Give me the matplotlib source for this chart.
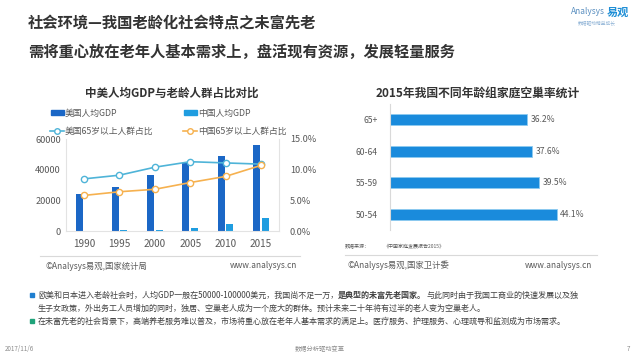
import matplotlib
matplotlib.use('Agg')
import matplotlib.pyplot as plt
import numpy as np
from matplotlib.patches import Rectangle

plt.rcParams['font.family'] = ['Noto Sans CJK SC', 'DejaVu Sans']

# data
years = ['1990', '1995', '2000', '2005', '2010', '2015']
us_gdp = [23900, 28700, 36400, 44100, 48700, 56300]
cn_gdp = [320, 610, 960, 1750, 4560, 8300]
us_old = [8.5, 9.1, 10.4, 11.3, 11.1, 10.9]
cn_old = [5.8, 6.4, 6.8, 7.9, 8.9, 10.7]

age_groups = ['65+', '60-64', '55-59', '50-54']
empty_nest = [36.2, 37.6, 39.5, 44.1]

W, H = 640, 360
US_BAR = '#1b67c6'
CN_BAR = '#1f9de0'
US_LINE = '#4fb4d8'
CN_LINE = '#f6b14f'
GRAY = '#595959'
TITLE = '#333333'


# pixel box (left, top, right, bottom) -> figure fraction
def box(l, t, r, b):
    return [l / W, 1 - b / H, (r - l) / W, (b - t) / H]


fig = plt.figure(figsize=(6.4, 3.6), dpi=100)
bg = fig.add_axes([0, 0, 1, 1])
bg.set_xlim(0, W)
bg.set_ylim(H, 0)
bg.axis('off')

# slide title
bg.text(28, 23, '社会环境—我国老龄化社会特点之未富先老', fontsize=11,
        fontweight='bold', color=TITLE, va='center')
bg.text(28, 52, '需将重心放在老年人基本需求上，盘活现有资源，发展轻量服务',
        fontsize=11, fontweight='bold', color=TITLE, va='center')

# logo
bg.text(605, 12, 'Analysys', fontsize=6, style='italic', color='#5a8fc0',
        ha='right', va='center')
bg.text(607, 12, '易观', fontsize=8, fontweight='bold', color='#1f8fd6', va='center')
bg.text(578, 24, '数据驱动精益成长', fontsize=3.4, color='#8fb3d6', va='center')

# ---- left chart ----
bg.text(172, 93, '中美人均GDP与老龄人群占比对比', fontsize=8.3, fontweight='bold',
        color=TITLE, ha='center', va='center')

# legend drawn by hand
bg.add_patch(Rectangle((51, 110), 13, 5, color=US_BAR))
bg.text(65, 113, '美国人均GDP', fontsize=6.3, color=GRAY, va='center')
bg.add_patch(Rectangle((184, 110), 13, 5, color=CN_BAR))
bg.text(198, 113, '中国人均GDP', fontsize=6.3, color=GRAY, va='center')
bg.plot([50, 64], [131, 131], color=US_LINE, lw=1.2)
bg.plot([57], [131], 'o', ms=4, mfc='white', mec=US_LINE, mew=1)
bg.text(65, 131, '美国65岁以上人群占比', fontsize=6.3, color=GRAY, va='center')
bg.plot([183, 197], [131, 131], color=CN_LINE, lw=1.2)
bg.plot([190], [131], 'o', ms=4, mfc='white', mec=CN_LINE, mew=1)
bg.text(198, 131, '中国65岁以上人群占比', fontsize=6.3, color=GRAY, va='center')

ax = fig.add_axes(box(66.3, 139, 278.7, 231))
ax.set_facecolor('none')
x = np.arange(len(years))
ax.bar(x - 0.12, us_gdp, width=0.2, color=US_BAR, zorder=2)
ax.bar(x + 0.12, cn_gdp, width=0.2, color=CN_BAR, zorder=2)
ax.set_xlim(-0.5, len(years) - 0.5)
ax.set_ylim(0, 60000)
ax.set_yticks([0, 20000, 40000, 60000])
ax.set_xticks(x)
ax.set_xticklabels(years)
ax.tick_params(axis='x', length=0, labelsize=7.2, labelcolor=GRAY, pad=6)
ax.tick_params(axis='y', length=0, labelsize=6.6, labelcolor=GRAY, pad=4)
ax.spines['top'].set_visible(False)
for s in ['left', 'right', 'bottom']:
    ax.spines[s].set_color('#e3e3e3')
    ax.spines[s].set_linewidth(0.8)

ax2 = ax.twinx()
ax2.plot(x, us_old, color=US_LINE, lw=1.2, marker='o', ms=4.5,
         mfc='white', mec=US_LINE, mew=1, zorder=3)
ax2.plot(x, cn_old, color=CN_LINE, lw=1.2, marker='o', ms=4.5,
         mfc='white', mec=CN_LINE, mew=1, zorder=3)
ax2.set_ylim(0, 15)
ax2.set_yticks([0, 5, 10, 15])
ax2.set_yticklabels(['0.0%', '5.0%', '10.0%', '15.0%'])
ax2.tick_params(axis='y', length=0, labelsize=6.6, labelcolor=GRAY, pad=8)
for s in ['top', 'left', 'right', 'bottom']:
    ax2.spines[s].set_visible(False)

bg.plot([40, 300], [256, 256], color='#d9d9d9', lw=0.8)
bg.text(45, 266, '©Analysys易观,国家统计局', fontsize=6, color=GRAY, va='center')
bg.text(297, 266, 'www.analysys.cn', fontsize=6, color=GRAY, va='center', ha='right')

# ---- right chart ----
bg.text(478, 93, '2015年我国不同年龄组家庭空巢率统计', fontsize=8.5, fontweight='bold',
        color=TITLE, ha='center', va='center')

bx = fig.add_axes(box(390, 104, 617, 230))
bx.set_facecolor('none')
y = np.arange(len(age_groups))
bx.barh(y, empty_nest, height=0.36, color='#1a8bdc', edgecolor='#8ccaf0', lw=0.6)
for yi, v in zip(y, empty_nest):
    bx.text(v + 0.9, yi, f'{v:.1f}%', fontsize=6.2, color=GRAY, va='center')
bx.set_xlim(0, 60)
bx.set_ylim(len(age_groups) - 0.5, -0.5)
bx.set_yticks(y)
bx.set_yticklabels(age_groups)
bx.set_xticks([])
bx.tick_params(axis='y', length=0, labelsize=6.2, labelcolor=GRAY, pad=9)
for s in ['top', 'right', 'bottom']:
    bx.spines[s].set_visible(False)
bx.spines['left'].set_color('#d9d9d9')
bx.spines['left'].set_linewidth(0.8)

bg.text(345, 246, '数据来源：', fontsize=3.6, color=GRAY, va='center')
bg.text(383, 246, '《中国家庭发展报告2015》', fontsize=3.6, color=GRAY, va='center')
bg.plot([345, 597], [255, 255], color='#d9d9d9', lw=0.8)
bg.text(347, 265, '©Analysys易观,国家卫计委', fontsize=6, color=GRAY, va='center')
bg.text(592, 265, 'www.analysys.cn', fontsize=6, color=GRAY, va='center', ha='right')

# ---- bullet text ----
renderer = fig.canvas.get_renderer()


def run_text(x0, yy, parts, size=5.8):
    xx = x0
    for s, w in parts:
        t = bg.text(xx, yy, s, fontsize=size, fontweight=w, color='#404040', va='center')
        xx += t.get_window_extent(renderer=renderer).width


bg.add_patch(Rectangle((30, 292.5), 4, 4, color='#1f7fd0'))
run_text(38, 295, [('欧美和日本进入老龄社会时，人均GDP一般在50000-100000美元，我国尚不足一万，', 'normal'),
                   ('是典型的未富先老国家。', 'bold'),
                   ('与此同时由于我国工商业的快速发展以及独', 'normal')])
run_text(38, 308, [('生子女政策，外出务工人员增加的同时，独居、空巢老人成为一个庞大的群体。预计未来二十年将有过半的老人变为空巢老人。', 'normal')])
bg.add_patch(Rectangle((30, 318.5), 4, 4, color='#1fa37a'))
run_text(38, 321, [('在未富先老的社会背景下，高端养老服务难以普及，市场将重心放在老年人基本需求的满足上。医疗服务、护理服务、心理疏导和监测成为市场需求。', 'normal')])

# footer
bg.text(5, 349, '2017/11/6', fontsize=4.5, color='#8c8c8c', va='center')
bg.text(320, 349, '数据分析驱动变革', fontsize=4.5, color='#8c8c8c', va='center', ha='center')
bg.text(630, 349, '7', fontsize=4.5, color='#8c8c8c', va='center', ha='right')

fig.savefig('out.png', dpi=100)
